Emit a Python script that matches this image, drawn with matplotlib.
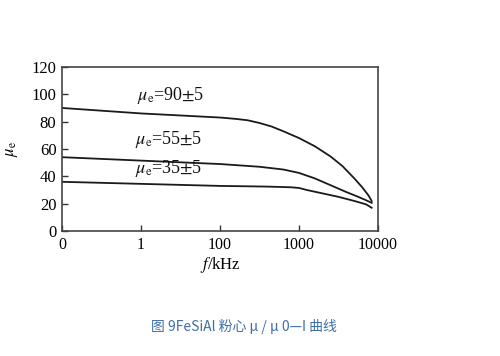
import matplotlib
matplotlib.use("Agg")
import matplotlib.pyplot as plt

plt.rcParams["mathtext.fontset"] = "stix"

# x-axis is a category-like scale: equally spaced labels
x_labels = ["0", "1", "100", "1000", "10000"]
x_ticks = [0, 1, 2, 3, 4]
y_ticks = [0, 20, 40, 60, 80, 100, 120]

# curves (x in tick-position units)
x90 = [0, 1, 2, 2.2, 2.35, 2.5, 2.65, 2.8, 3.0, 3.2, 3.4, 3.55, 3.7, 3.8, 3.88, 3.92]
y90 = [90, 86, 83, 82, 81, 79, 76.5, 73, 68, 62, 54.5, 47.5, 38.5, 32, 26, 22]

x55 = [0, 1, 2, 2.5, 2.8, 3.0, 3.2, 3.4, 3.6, 3.75, 3.85, 3.92]
y55 = [54, 51.5, 49, 47, 45, 42.5, 38.5, 33.5, 28.5, 25, 22.5, 20.6]

x35 = [0, 1, 2, 2.6, 2.9, 3.0, 3.1, 3.3, 3.5, 3.7, 3.85, 3.92]
y35 = [36, 34.5, 33, 32.5, 32, 31.5, 30, 27.5, 25, 22, 19.5, 17]

serif = "Liberation Serif"

fig = plt.figure(figsize=(5.0, 3.56), dpi=100)
ax = fig.add_axes([0.124, 0.351, 0.632, 0.461])

for xs, ys in [(x90, y90), (x55, y55), (x35, y35)]:
    ax.plot(xs, ys, color="#1a1a1a", lw=1.3, solid_joinstyle="round")

ax.set_xlim(0, 4)
ax.set_ylim(0, 120)
ax.set_xticks(x_ticks)
ax.set_xticklabels(x_labels, fontfamily=serif, fontsize=11.5)
ax.set_yticks(y_ticks)
ax.set_yticklabels([str(v) for v in y_ticks], fontfamily=serif, fontsize=12)
ax.tick_params(direction="in", length=4, width=1, color="#333333", pad=4)
for s in ax.spines.values():
    s.set_color("#444444")
    s.set_linewidth(1.2)

for xpos, ypos, val in [(0.95, 95.5, "90"), (0.93, 63.5, "55"), (0.93, 42.5, "35")]:
    ax.text(xpos, ypos, r"$\mu_{\mathrm{e}}$=" + val + r"$\pm$5", fontfamily=serif,
            fontsize=13, color="#111111")

ax.set_xlabel(r"$f$/kHz", fontfamily=serif, fontsize=12, labelpad=2)
ax.set_ylabel(r"$\mu_{\mathrm{e}}$", fontfamily=serif, fontsize=12, labelpad=8)

fig.text(0.488, 0.083, "图 9FeSiAl 粉心 μ / μ 0—I 曲线", ha="center", va="center",
         fontsize=10, color="#3f6fa8", family=["Noto Sans CJK SC", "DejaVu Sans"])

fig.savefig("out.png", dpi=100)
